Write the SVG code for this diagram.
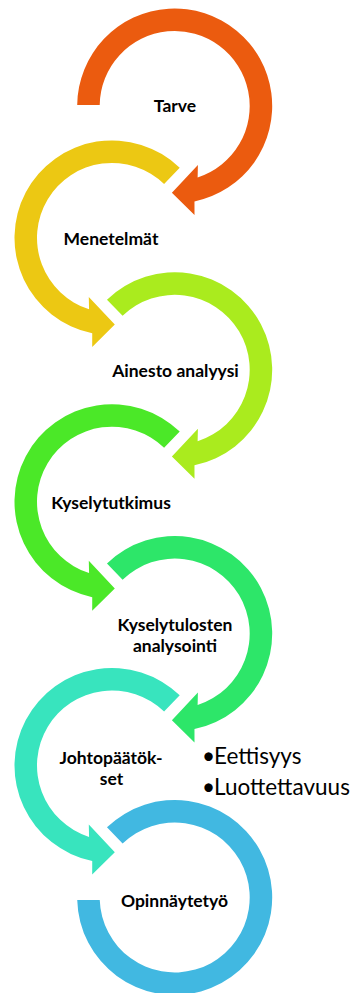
<svg xmlns="http://www.w3.org/2000/svg" xmlns:xlink="http://www.w3.org/1999/xlink" width="352" height="993" viewBox="0 0 352 993">
  <style>
    .lbl { font-family: Lato, "Open Sans", "Liberation Sans", sans-serif; font-weight: 700; font-size: 17.5px; fill: #000; text-anchor: middle; }
    .bul { font-family: Lato, "Open Sans", "Liberation Sans", sans-serif; font-weight: 400; font-size: 22.5px; fill: #000; }
  </style>
  <defs>
    <!-- ring segments drawn around a local origin (circle centre); outer r 97.5, inner r 75 -->
    <path id="arcFirst" d="M -97.5 -1 A 97.5 97.5 0 1 1 19.77 95.47 L 19.8 109 L -2.8 86.7 L 23.2 59 L 22.93 71.41 A 75 75 0 1 0 -75 -1 Z"/>
    <path id="arcMid" d="M -67.73 -70.14 A 97.5 97.5 0 1 1 19.77 95.47 L 19.8 109 L -2.8 86.7 L 23.2 59 L 22.93 71.41 A 75 75 0 1 0 -52.1 -53.95 Z"/>
    <path id="arcLast" d="M -67.73 -70.14 A 97.5 97.5 0 1 1 -97.47 2.5 L -74.96 2.5 A 75 75 0 1 0 -52.1 -53.95 Z"/>
  </defs>

  <g id="node-tarve">
    <use xlink:href="#arcFirst" href="#arcFirst" transform="translate(174.7 106)" fill="#EB5B0F"/>
    <text class="lbl" x="175" y="112">Tarve</text>
  </g>

  <g id="node-menetelmat">
    <use xlink:href="#arcMid" href="#arcMid" transform="translate(112 237.9) scale(-1 1)" fill="#ECC813"/>
    <text class="lbl" x="111" y="245">Menetelmät</text>
  </g>

  <g id="node-ainesto">
    <use xlink:href="#arcMid" href="#arcMid" transform="translate(174.7 369.8)" fill="#AAEB1E"/>
    <text class="lbl" x="175.5" y="377">Ainesto analyysi</text>
  </g>

  <g id="node-kyselytutkimus">
    <use xlink:href="#arcMid" href="#arcMid" transform="translate(112 501.7) scale(-1 1)" fill="#4BE828"/>
    <text class="lbl" x="111" y="509">Kyselytutkimus</text>
  </g>

  <g id="node-kyselytulokset">
    <use xlink:href="#arcMid" href="#arcMid" transform="translate(174.7 633.6)" fill="#2DE669"/>
    <text class="lbl" x="175" y="631">Kyselytulosten</text>
    <text class="lbl" x="175" y="652">analysointi</text>
  </g>

  <g id="node-johtopaatokset">
    <use xlink:href="#arcMid" href="#arcMid" transform="translate(112 765.5) scale(-1 1)" fill="#38E4BE"/>
    <text class="lbl" x="111" y="763.5">Johtopäätök-</text>
    <text class="lbl" x="111.5" y="785">set</text>
  </g>

  <g id="node-opinnaytetyo">
    <use xlink:href="#arcLast" href="#arcLast" transform="translate(174.7 897.5)" fill="#41B8E1"/>
    <text class="lbl" x="174.5" y="907">Opinnäytetyö</text>
  </g>

  <g id="notes">
    <text class="bul" x="202" y="764">•</text>
    <text class="bul" x="214" y="764">Eettisyys</text>
    <text class="bul" x="202" y="795">•</text>
    <text class="bul" x="214" y="795">Luottettavuus</text>
  </g>

  <g id="connectors"></g>
</svg>
